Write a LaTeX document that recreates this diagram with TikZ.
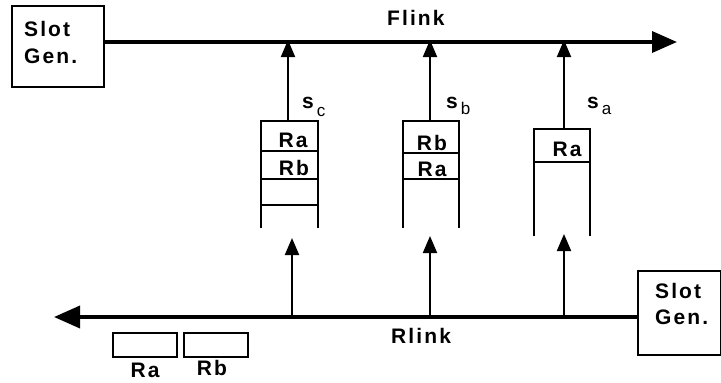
\documentclass[tikz,border=0pt]{standalone}
\usepackage{fontspec}
\setmainfont{Liberation Sans}[LetterSpace=10]
\usetikzlibrary{arrows.meta}
\begin{document}
\begin{tikzpicture}[x=1pt,y=-1pt,
  lbl/.style={font=\fontsize{21}{27}\selectfont\bfseries, inner sep=0pt},
  box/.style={draw, line width=2pt, inner sep=0pt},
  hollow/.style={inner sep=0pt, outer sep=0pt},
  link/.style={line width=3.6pt},
  up/.style={line width=2pt, -{Triangle[length=17pt,width=14pt]}},
  qline/.style={line width=2pt}
]
\useasboundingbox (0,0) rectangle (721,383);

% Slot generators
\node[box, minimum width=92pt, minimum height=81pt, anchor=north west] (sg1) at (11,5) {};
\node[lbl, anchor=base west] (sg1a) at (24,36) {Slot};
\node[lbl, anchor=base west] (sg1b) at (24,63) {Gen.};
\node[box, minimum width=83pt, minimum height=84pt, anchor=north west] (sg2) at (637,270) {};
\node[lbl, anchor=base west] (sg2a) at (655,298) {Slot};
\node[lbl, anchor=base west] (sg2b) at (655,324) {Gen.};

% Links
\coordinate (fend) at (677,42);
\coordinate (rend) at (54,317);
\draw[link, -{Triangle[length=25pt,width=21pt]}] (sg1.east |- fend) -- (fend);
\draw[link, -{Triangle[length=26pt,width=22pt]}] (sg2.west |- rend) -- (rend);
\node[lbl, anchor=base west] (flab) at (387,25) {Flink};
\node[lbl, anchor=base west] (rlab) at (391,343) {Rlink};

% Queue c
\node[hollow, minimum width=57pt, minimum height=107pt, anchor=north west] (qc) at (261,121) {};
\draw[qline] (qc.south west) -- (qc.north west) -- (qc.north east) -- (qc.south east);
\draw[qline] (qc.west |- 0,151) -- (qc.east |- 0,151);
\draw[qline] (qc.west |- 0,179) -- (qc.east |- 0,179);
\draw[qline] (qc.west |- 0,205) -- (qc.east |- 0,205);
\node[lbl, anchor=base] (qc1) at (293,147) {Ra};
\node[lbl, anchor=base] (qc2) at (294,175) {Rb};

% Queue b
\node[hollow, minimum width=56pt, minimum height=107pt, anchor=north west] (qb) at (403,121) {};
\draw[qline] (qb.south west) -- (qb.north west) -- (qb.north east) -- (qb.south east);
\draw[qline] (qb.west |- 0,153) -- (qb.east |- 0,153);
\draw[qline] (qb.west |- 0,179) -- (qb.east |- 0,179);
\node[lbl, anchor=base] (qb1) at (432,150) {Rb};
\node[lbl, anchor=base] (qb2) at (432,176) {Ra};

% Queue a
\node[hollow, minimum width=56pt, minimum height=107pt, anchor=north west] (qa) at (534,129) {};
\draw[qline] (qa.south west) -- (qa.north west) -- (qa.north east) -- (qa.south east);
\draw[qline] (qa.west |- 0,162) -- (qa.east |- 0,162);
\node[lbl, anchor=base] (qa1) at (567,156) {Ra};

% Access arrows onto Flink
\coordinate (fc) at (288,40);
\coordinate (fb) at (430,40);
\coordinate (fa) at (564,40);
\draw[up] (qc.north -| fc) -- (fc);
\draw[up] (qb.north -| fb) -- (fb);
\draw[up] (qa.north -| fa) -- (fa);

% Slot labels
\node[lbl, anchor=base west] (sc) at (302,108) {s\hspace{3pt}\raisebox{-8pt}{\fontsize{17}{17}\selectfont\mdseries c}};
\node[lbl, anchor=base west] (sb) at (446,108) {s\hspace{3pt}\raisebox{-6pt}{\fontsize{17}{17}\selectfont\mdseries b}};
\node[lbl, anchor=base west] (sa) at (587,108) {s\hspace{3pt}\raisebox{-6pt}{\fontsize{17}{17}\selectfont\mdseries a}};

% Request arrows from Rlink
\coordinate (rc) at (292,317);
\coordinate (uc) at (292,238);
\coordinate (rb) at (430,317);
\coordinate (ub) at (430,236);
\coordinate (ra) at (564,317);
\coordinate (ua) at (564,234);
\draw[up] (rc) -- (uc);
\draw[up] (rb) -- (ub);
\draw[up] (ra) -- (ua);

% Request packets
\node[box, minimum width=64pt, minimum height=24pt, anchor=north west] (pa) at (112,332) {};
\node[box, minimum width=64pt, minimum height=24pt, anchor=north west] (pb) at (183,332) {};
\node[lbl, anchor=base] (pal) at (145,377) {Ra};
\node[lbl, anchor=base] (pbl) at (212,375) {Rb};
\end{tikzpicture}
\end{document}
